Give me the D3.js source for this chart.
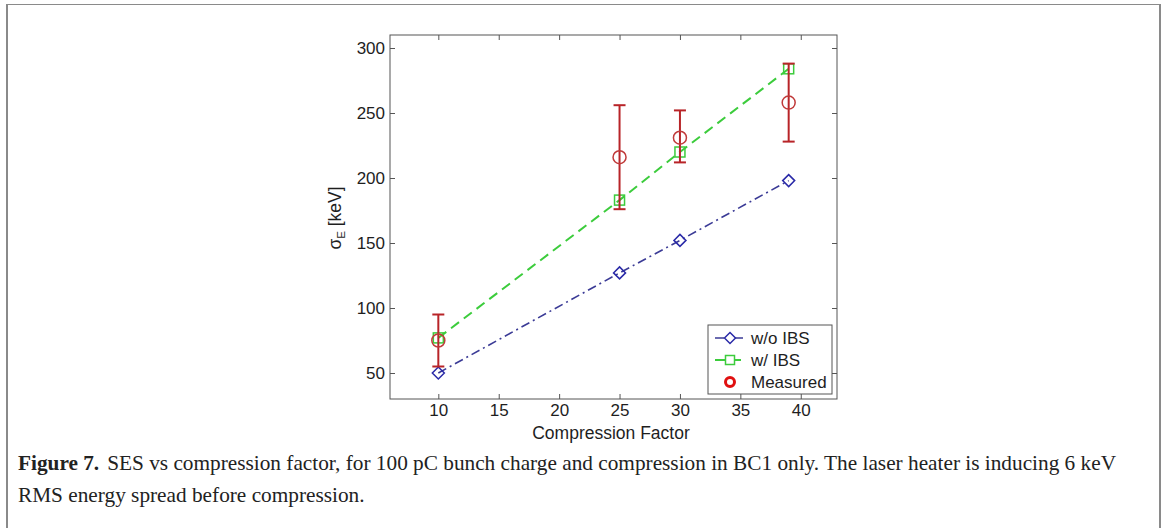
<!DOCTYPE html>
<html>
<head>
<meta charset="utf-8">
<script src="https://cdn.jsdelivr.net/npm/d3@7"></script>
<style>
  html, body { margin: 0; padding: 0; background: #fff; }
  svg { display: block; }
</style>
</head>
<body>
<script>
// ---- data ----
const compression = [10, 25, 30, 39];
const withoutIBS = [50, 127, 152, 198];
const withIBS = [77, 183, 220, 284];
const measured = [75, 216, 231, 258];
const measuredLow = [55, 176, 212, 228];
const measuredHigh = [95, 256, 252, 288];
const xTicks = [10, 15, 20, 25, 30, 35, 40];
const yTicks = [50, 100, 150, 200, 250, 300];
const legendLabels = ["w/o IBS", "w/ IBS", "Measured"];
const captionBold = "Figure 7.";
const captionLine1 = "SES vs compression factor, for 100 pC bunch charge and compression in BC1 only. The laser heater is inducing 6 keV";
const captionLine2 = "RMS energy spread before compression.";

const W = 1165, H = 528;
const svg = d3.select("body").append("svg").attr("width", W).attr("height", H);

// figure frame
const frameColor = "#8a8a8a";
svg.append("line").attr("x1", 6).attr("x2", 1161).attr("y1", 4.5).attr("y2", 4.5).attr("stroke", frameColor).attr("stroke-width", 1);
svg.append("line").attr("x1", 7).attr("x2", 7).attr("y1", 4).attr("y2", H).attr("stroke", frameColor).attr("stroke-width", 2);
svg.append("line").attr("x1", 1160).attr("x2", 1160).attr("y1", 4).attr("y2", H).attr("stroke", frameColor).attr("stroke-width", 2);

// plot area
const L = 390, R = 837, T = 35, B = 399;
const x = d3.scaleLinear().domain([6, 43]).range([L, R]);
const y = d3.scaleLinear().domain([30, 310]).range([B, T]);
const axisColor = "#555";
const textColor = "#1e1e1e";
const font = "'Liberation Sans', Arial, sans-serif";
const fs = 17;

const g = svg.append("g");
// box
g.append("rect").attr("x", L).attr("y", T).attr("width", R - L).attr("height", B - T)
  .attr("fill", "none").attr("stroke", axisColor).attr("stroke-width", 1);

// axes
const xAxis = g.append("g").attr("transform", `translate(0,${B})`)
  .call(d3.axisBottom(x).tickValues(xTicks).tickSize(-5).tickPadding(5));
const xAxisTop = g.append("g").attr("transform", `translate(0,${T})`)
  .call(d3.axisTop(x).tickValues(xTicks).tickSize(-5).tickFormat(""));
const yAxis = g.append("g").attr("transform", `translate(${L},0)`)
  .call(d3.axisLeft(y).tickValues(yTicks).tickSize(-5).tickPadding(5));
const yAxisR = g.append("g").attr("transform", `translate(${R},0)`)
  .call(d3.axisRight(y).tickValues(yTicks).tickSize(-5).tickFormat(""));
[xAxis, xAxisTop, yAxis, yAxisR].forEach(a => {
  a.select(".domain").remove();
  a.selectAll(".tick line").attr("stroke", axisColor);
  a.selectAll(".tick text").attr("fill", textColor).style("font-family", font).style("font-size", fs + "px");
});

// axis labels
g.append("text").attr("x", 611).attr("y", 439).attr("text-anchor", "middle")
  .style("font-family", font).style("font-size", "17.5px").attr("fill", textColor)
  .text("Compression Factor");
const yl = g.append("text").attr("transform", `translate(341,218) rotate(-90)`)
  .attr("text-anchor", "middle").style("font-family", font).style("font-size", "17.5px").attr("fill", textColor);
yl.append("tspan").text("σ");
yl.append("tspan").attr("dy", 4).style("font-size", "11.5px").text("E");
yl.append("tspan").attr("dy", -4).text(" [keV]");

// series
const idx = d3.range(compression.length);
const lineGen = arr => d3.line().x(i => x(compression[i])).y(i => y(arr[i]))(idx);

const blue = "#2a2aa8", blueLine = "#3b3b96";
const green = "#3ccc3c";
const red = "#b82428";

g.append("path").attr("d", lineGen(withoutIBS)).attr("fill", "none")
  .attr("stroke", blueLine).attr("stroke-width", 1.6).attr("stroke-dasharray", "9,4,2,4");
g.append("path").attr("d", lineGen(withIBS)).attr("fill", "none")
  .attr("stroke", green).attr("stroke-width", 2).attr("stroke-dasharray", "10,6");

// diamonds
const diamond = (cx, cy, r) => `M${cx},${cy - r}L${cx + r},${cy}L${cx},${cy + r}L${cx - r},${cy}Z`;
g.selectAll(".dia").data(idx).enter().append("path")
  .attr("d", i => diamond(x(compression[i]), y(withoutIBS[i]), 6))
  .attr("fill", "none").attr("stroke", blue).attr("stroke-width", 1.5);
// squares
g.selectAll(".sq").data(idx).enter().append("rect")
  .attr("x", i => x(compression[i]) - 5).attr("y", i => y(withIBS[i]) - 5)
  .attr("width", 10).attr("height", 10)
  .attr("fill", "none").attr("stroke", green).attr("stroke-width", 1.5);
// error bars
const eb = g.selectAll(".eb").data(idx).enter().append("g").attr("stroke", red).attr("stroke-width", 2);
eb.append("line").attr("x1", i => x(compression[i])).attr("x2", i => x(compression[i]))
  .attr("y1", i => y(measuredLow[i])).attr("y2", i => y(measuredHigh[i]));
eb.append("line").attr("x1", i => x(compression[i]) - 6).attr("x2", i => x(compression[i]) + 6)
  .attr("y1", i => y(measuredLow[i])).attr("y2", i => y(measuredLow[i]));
eb.append("line").attr("x1", i => x(compression[i]) - 6).attr("x2", i => x(compression[i]) + 6)
  .attr("y1", i => y(measuredHigh[i])).attr("y2", i => y(measuredHigh[i]));
g.selectAll(".circ").data(idx).enter().append("circle")
  .attr("cx", i => x(compression[i])).attr("cy", i => y(measured[i])).attr("r", 6.5)
  .attr("fill", "none").attr("stroke", "#c03a3a").attr("stroke-width", 1.5);

// legend
const lg = g.append("g");
lg.append("rect").attr("x", 708).attr("y", 325).attr("width", 124).attr("height", 69)
  .attr("fill", "#fff").attr("stroke", axisColor).attr("stroke-width", 1);
const rows = [338, 360, 382];
const lx0 = 715, lx1 = 745, lxc = 730;
lg.append("line").attr("x1", lx0).attr("x2", lx1).attr("y1", rows[0]).attr("y2", rows[0])
  .attr("stroke", blueLine).attr("stroke-width", 1.6).attr("stroke-dasharray", "9,4,2,4");
lg.append("path").attr("d", diamond(lxc, rows[0], 5.5)).attr("fill", "#fff").attr("stroke", blue).attr("stroke-width", 1.5);
lg.append("line").attr("x1", lx0).attr("x2", lx1).attr("y1", rows[1]).attr("y2", rows[1])
  .attr("stroke", green).attr("stroke-width", 2).attr("stroke-dasharray", "10,6");
lg.append("rect").attr("x", lxc - 4.5).attr("y", rows[1] - 4.5).attr("width", 9).attr("height", 9)
  .attr("fill", "#fff").attr("stroke", green).attr("stroke-width", 1.5);
lg.append("circle").attr("cx", lxc).attr("cy", rows[2]).attr("r", 4.5)
  .attr("fill", "none").attr("stroke", "#e01010").attr("stroke-width", 3);
legendLabels.forEach((t, i) => {
  lg.append("text").attr("x", 751).attr("y", rows[i] + 6).text(t)
    .style("font-family", font).style("font-size", fs + "px").attr("fill", textColor);
});

// caption
const capFont = "'Liberation Serif', 'Times New Roman', serif";
const capX = 18, capEnd = 1118;
const cap1 = svg.append("text").attr("x", capX).attr("y", 470)
  .style("font-family", capFont).style("font-size", "18px").attr("fill", "#222");
cap1.append("tspan").style("font-weight", "bold").text(captionBold);
cap1.append("tspan").attr("dx", 8).text(captionLine1);
const len = cap1.node().getComputedTextLength() + 8;
const capFs = 18 * (capEnd - capX) / len;
cap1.style("font-size", capFs + "px");
svg.append("text").attr("x", capX).attr("y", 502)
  .style("font-family", capFont).style("font-size", capFs + "px").attr("fill", "#222")
  .text(captionLine2);
</script>
</body>
</html>
